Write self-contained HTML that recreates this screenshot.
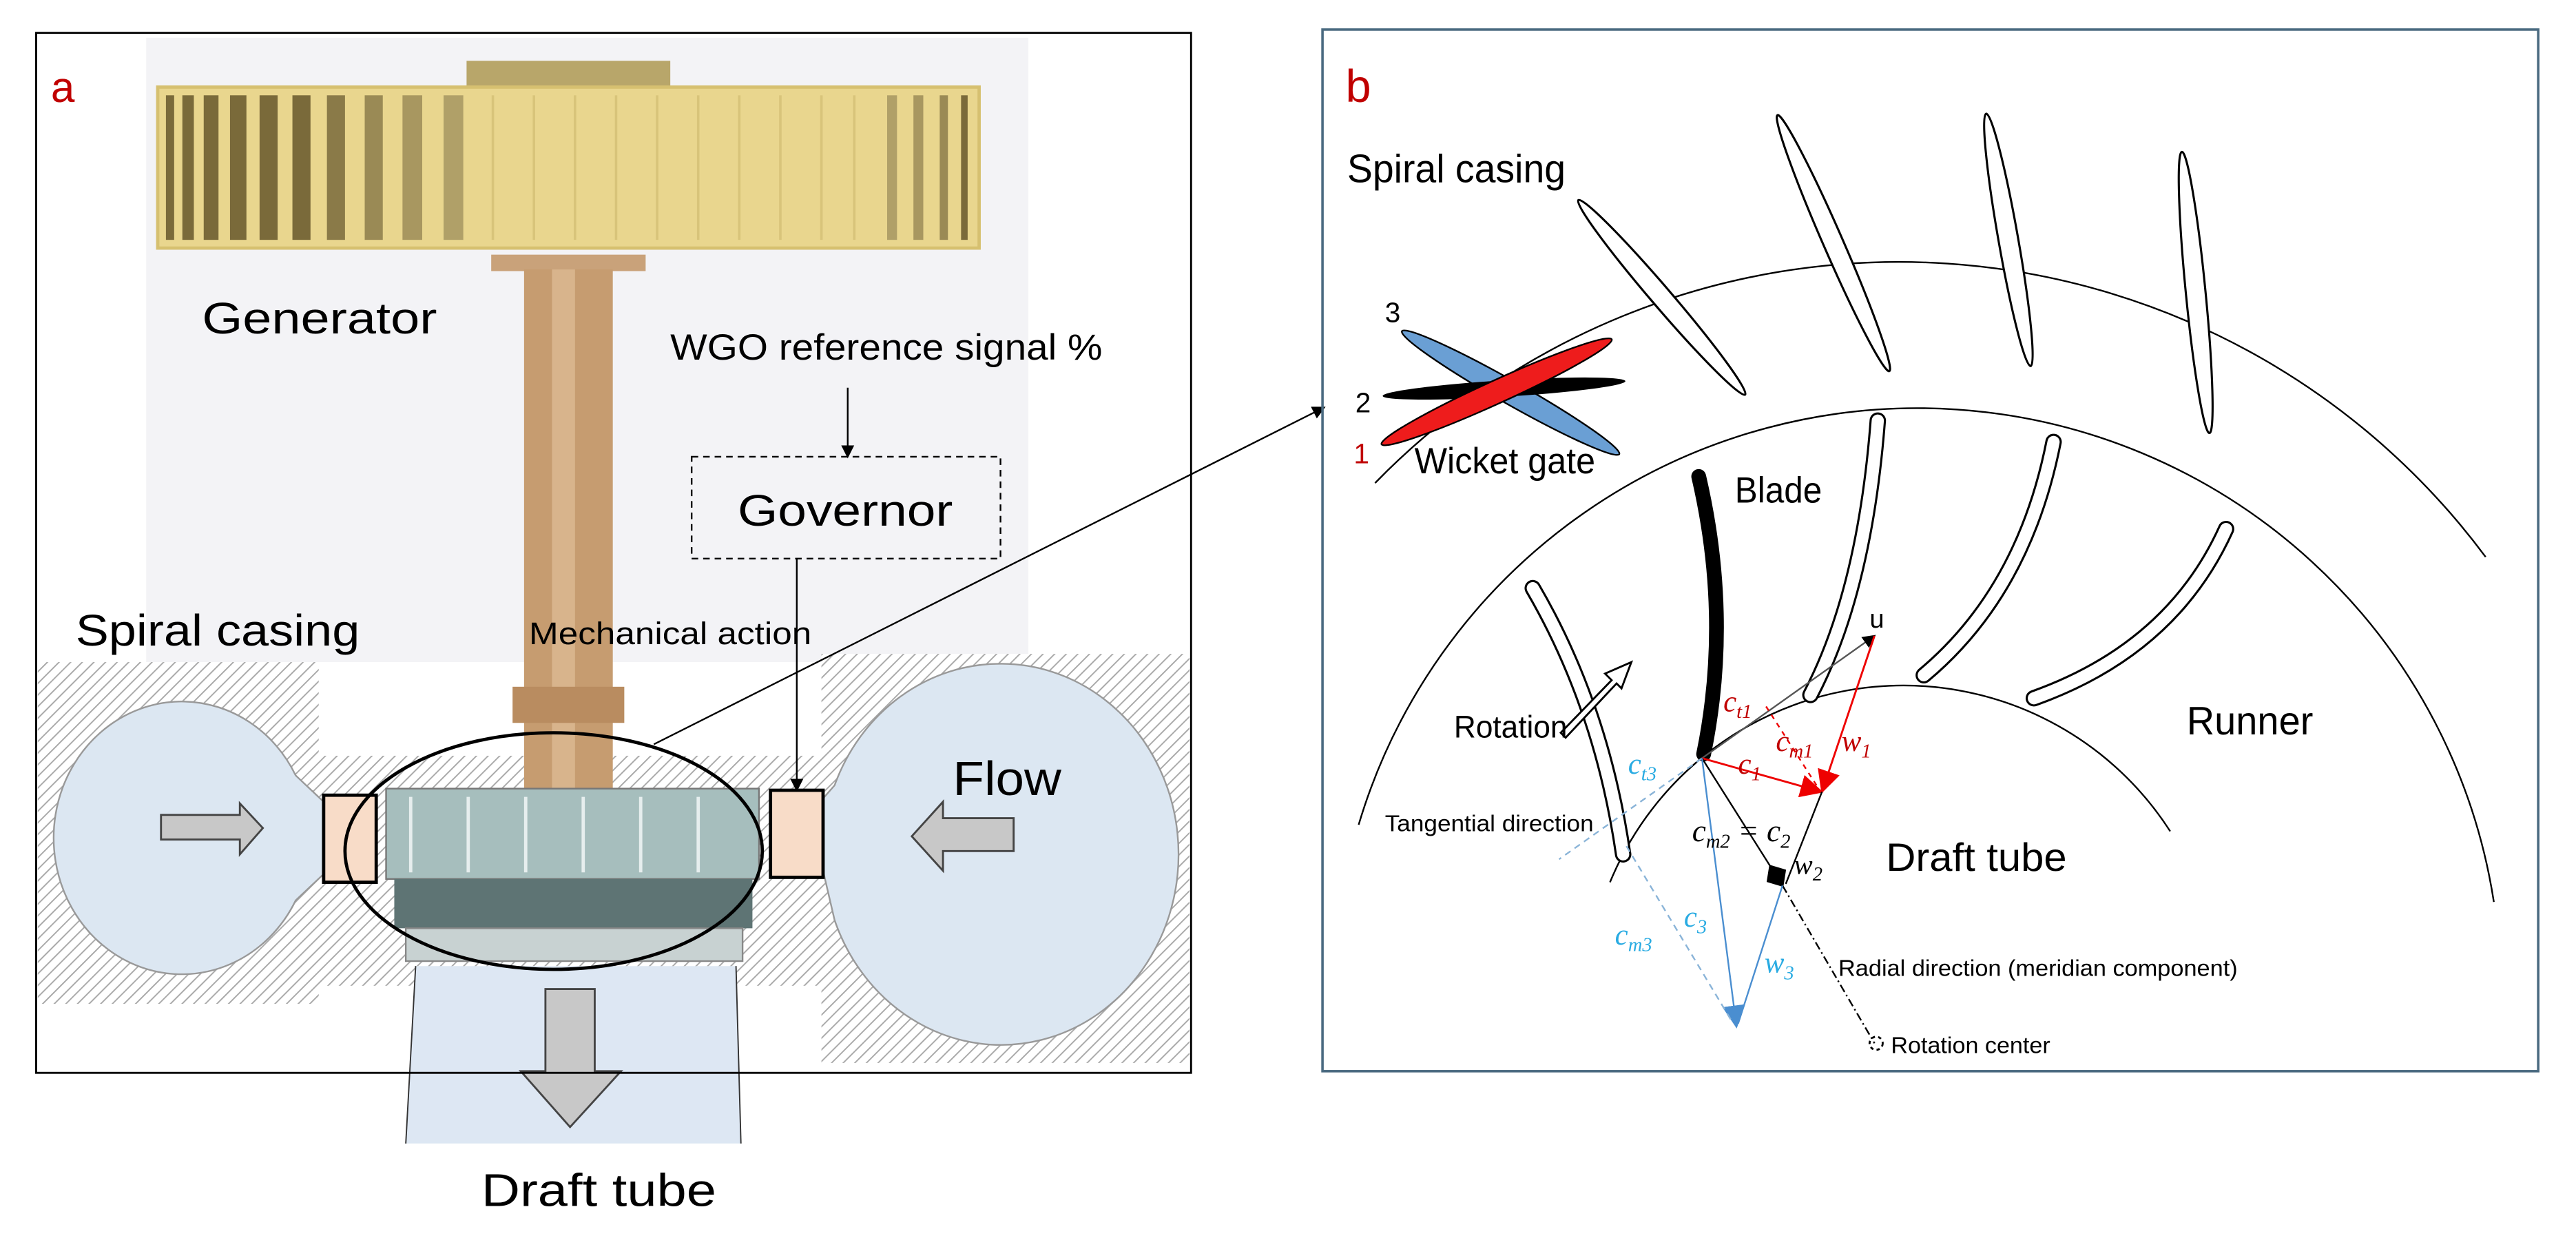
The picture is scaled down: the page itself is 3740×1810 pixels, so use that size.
<!DOCTYPE html>
<html><head><meta charset="utf-8"><style>html,body{margin:0;padding:0;background:#fff}svg{display:block}</style></head>
<body>
<svg width="3740" height="1810" viewBox="0 0 1568 759" preserveAspectRatio="none" xmlns="http://www.w3.org/2000/svg" font-family="Liberation Sans, sans-serif">
<defs>
<pattern id="h" width="5" height="5" patternUnits="userSpaceOnUse" patternTransform="rotate(45)">
<rect width="5" height="5" fill="#fff"/><line x1="0" y1="0" x2="0" y2="5" stroke="#a8a8a8" stroke-width="1.6"/></pattern>
<marker id="ak" markerWidth="8" markerHeight="8" refX="7" refY="4" orient="auto" markerUnits="userSpaceOnUse"><path d="M0,0L8,4L0,8z" fill="#000"/></marker>
<marker id="ar" markerWidth="14" markerHeight="14" refX="13" refY="7" orient="auto" markerUnits="userSpaceOnUse"><path d="M0,0L14,7L0,14z" fill="#e00"/></marker>
<marker id="ab" markerWidth="14" markerHeight="14" refX="13" refY="7" orient="auto" markerUnits="userSpaceOnUse"><path d="M0,0L14,7L0,14z" fill="#4a8ed0"/></marker>
<marker id="ad" markerWidth="18" markerHeight="16" refX="15" refY="8" orient="auto" markerUnits="userSpaceOnUse"><path d="M0,8L8,1L16,8L8,15z" fill="#000"/></marker>
</defs>
<rect width="1568" height="759" fill="#fff"/>

<!-- ===== Panel a ===== -->
<rect x="89" y="23" width="537" height="380" fill="#f3f3f6"/>
<rect x="23" y="403" width="171" height="208" fill="url(#h)"/>
<rect x="180" y="460" width="330" height="140" fill="url(#h)"/>
<rect x="500" y="398" width="224" height="249" fill="url(#h)"/>
<path d="M112,427 A78,83 0 1,0 180,548 L197,532 L197,488 L180,472 A78,83 0 0,0 112,427z" fill="#dce7f2" stroke="#999" stroke-width="1"/>
<path d="M610,404 A108,116 0 1,1 508,560 L501,530 L501,486 L508,478 A108,116 0 0,1 610,404z" fill="#dce7f2" stroke="#999" stroke-width="1"/>
<path d="M253,588 L448,588 L451,696 L247,696z" fill="#dde7f3"/>
<line x1="253" y1="588" x2="247" y2="696" stroke="#333" stroke-width="0.8"/>
<line x1="448" y1="588" x2="451" y2="696" stroke="#333" stroke-width="0.8"/>
<rect x="284" y="37" width="124" height="17" fill="#b8a66a"/>
<rect x="96" y="53" width="500" height="98" fill="#e9d68e" stroke="#d6c070" stroke-width="2"/>
<g fill="#7a6a3a">
<rect x="101" y="58" width="5" height="88"/><rect x="111" y="58" width="7" height="88"/><rect x="124" y="58" width="9" height="88"/>
<rect x="140" y="58" width="10" height="88"/><rect x="158" y="58" width="11" height="88"/><rect x="178" y="58" width="11" height="88"/>
<rect x="199" y="58" width="11" height="88" fill="#8a7a48"/><rect x="222" y="58" width="11" height="88" fill="#9a8a55"/>
<rect x="245" y="58" width="12" height="88" fill="#a89760"/><rect x="270" y="58" width="12" height="88" fill="#b0a068"/>
<rect x="540" y="58" width="6" height="88" fill="#b0a068"/><rect x="556" y="58" width="6" height="88" fill="#a89760"/><rect x="572" y="58" width="5" height="88" fill="#9a8a55"/><rect x="585" y="58" width="4" height="88"/>
</g>
<g fill="none" stroke="#d8c47a" stroke-width="1.5">
<path d="M300,58v88M325,58v88M350,58v88M375,58v88M400,58v88M425,58v88M450,58v88M475,58v88M500,58v88M520,58v88"/>
</g>
<rect x="299" y="155" width="94" height="10" fill="#c9a27a"/>
<rect x="319" y="164" width="54" height="320" fill="#c69c70"/>
<rect x="336" y="164" width="14" height="320" fill="#d8b48c"/>
<rect x="312" y="418" width="68" height="22" fill="#b98c60"/>
<rect x="235" y="480" width="227" height="55" fill="#a6bebd" stroke="#777"/>
<g stroke="#e6eeee" stroke-width="2"><path d="M250,485v46M285,485v46M320,485v46M355,485v46M390,485v46M425,485v46"/></g>
<rect x="240" y="535" width="218" height="30" fill="#5e7474"/>
<rect x="247" y="565" width="205" height="20" fill="#c8d2d2" stroke="#888"/>
<rect x="197" y="484" width="32" height="53" fill="#f8dcc8" stroke="#000" stroke-width="2"/>
<rect x="469" y="481" width="32" height="53" fill="#f8dcc8" stroke="#000" stroke-width="2"/>
<ellipse cx="337" cy="518" rx="127" ry="72" fill="none" stroke="#000" stroke-width="2"/>
<path d="M98,496H146V489L160,504L146,520V511H98z" fill="#c8c8c8" stroke="#444" stroke-width="1.2"/>
<path d="M617,498H574V488L555,509L574,530V518H617z" fill="#c8c8c8" stroke="#444" stroke-width="1.2"/>
<path d="M332,602H362V652H378L347,686L317,652H332z" fill="#c8c8c8" stroke="#444" stroke-width="1.2"/>
<line x1="516" y1="236" x2="516" y2="278" stroke="#000" stroke-width="1" marker-end="url(#ak)"/>
<rect x="421" y="278" width="188" height="62" fill="none" stroke="#000" stroke-width="1" stroke-dasharray="4,3"/>
<line x1="485" y1="340" x2="485" y2="481" stroke="#000" stroke-width="1" marker-end="url(#ak)"/>
<rect x="22" y="20" width="703" height="633" fill="none" stroke="#000" stroke-width="1.2"/>
<text x="31" y="62" font-size="26" fill="#c00000">a</text>
<text x="123" y="203" font-size="27" textLength="143" lengthAdjust="spacingAndGlyphs">Generator</text>
<text x="408" y="219" font-size="22" textLength="263" lengthAdjust="spacingAndGlyphs">WGO reference signal %</text>
<text x="449" y="320" font-size="27" textLength="131" lengthAdjust="spacingAndGlyphs">Governor</text>
<text x="46" y="393" font-size="27" textLength="173" lengthAdjust="spacingAndGlyphs">Spiral casing</text>
<text x="322" y="392" font-size="19" textLength="172" lengthAdjust="spacingAndGlyphs">Mechanical action</text>
<text x="580" y="484" font-size="29" textLength="66" lengthAdjust="spacingAndGlyphs">Flow</text>
<text x="293" y="734" font-size="28" textLength="143" lengthAdjust="spacingAndGlyphs">Draft tube</text>
<line x1="398" y1="453" x2="806" y2="248" stroke="#000" stroke-width="1" marker-end="url(#ak)"/>

<!-- ===== Panel b ===== -->
<rect x="805" y="18" width="740" height="634" fill="none" stroke="#4a6a80" stroke-width="1.5"/>
<text x="819" y="62" font-size="28" fill="#c00000">b</text>
<text x="820" y="111" font-size="24" textLength="133" lengthAdjust="spacingAndGlyphs">Spiral casing</text>
<g fill="none" stroke="#000" stroke-width="1">
<path d="M837,294 A445,445 0 0,1 1513,339"/>
<path d="M827,502 A355,355 0 0,1 1518,549"/>
<path d="M980,537 A193,193 0 0,1 1321,506"/>
</g>
<g fill="#fff" stroke="#000" stroke-width="1.3">
<ellipse cx="1011.5" cy="181" rx="78" ry="6" transform="rotate(49.4 1011.5 181)"/>
<ellipse cx="1116" cy="148" rx="85" ry="6" transform="rotate(66.4 1116 148)"/>
<ellipse cx="1222.5" cy="146" rx="78" ry="6" transform="rotate(80 1222.5 146)"/>
<ellipse cx="1336.5" cy="178" rx="86" ry="6" transform="rotate(84.4 1336.5 178)"/>
</g>
<ellipse cx="919.5" cy="239" rx="76" ry="7" transform="rotate(29.5 919.5 239)" fill="#6a9fd4" stroke="#000" stroke-width="1"/>
<ellipse cx="915.5" cy="236.5" rx="74" ry="5" transform="rotate(-3.5 915.5 236.5)" fill="#000"/>
<ellipse cx="911" cy="238.5" rx="77" ry="7" transform="rotate(-24.5 911 238.5)" fill="#ee1c1c" stroke="#000" stroke-width="1"/>
<text x="843" y="196" font-size="17">3</text>
<text x="825" y="251" font-size="17">2</text>
<text x="824" y="282" font-size="17" fill="#c00000">1</text>
<text x="861" y="288" font-size="22" textLength="110" lengthAdjust="spacingAndGlyphs">Wicket gate</text>
<g fill="none" stroke-linecap="round">
<g stroke="#000" stroke-width="10">
<path d="M1143,256 Q1135,360 1102,423"/><path d="M1250,269 Q1232,360 1171,411"/>
<path d="M1355,322 Q1322,395 1238,425"/><path d="M933,358 Q975,430 988,520"/>
</g>
<g stroke="#fff" stroke-width="7.4">
<path d="M1143,256 Q1135,360 1102,423"/><path d="M1250,269 Q1232,360 1171,411"/>
<path d="M1355,322 Q1322,395 1238,425"/><path d="M933,358 Q975,430 988,520"/>
</g>
<path d="M1034,290 Q1054,376 1037,459" stroke="#000" stroke-width="9"/>
</g>
<text x="1056" y="306" font-size="22" textLength="53" lengthAdjust="spacingAndGlyphs">Blade</text>
<path d="M950,446 L981,414 L977,410 L993,403 L987,419 L984,416 L953,449z" fill="#fff" stroke="#000" stroke-width="1.2"/>
<text x="885" y="449" font-size="19" textLength="69" lengthAdjust="spacingAndGlyphs">Rotation</text>
<text x="1331" y="447" font-size="24" textLength="77" lengthAdjust="spacingAndGlyphs">Runner</text>
<text x="1148" y="530" font-size="24" textLength="110" lengthAdjust="spacingAndGlyphs">Draft tube</text>
<text x="843" y="506" font-size="14" textLength="127" lengthAdjust="spacingAndGlyphs">Tangential direction</text>
<text x="1119" y="594" font-size="14" textLength="243" lengthAdjust="spacingAndGlyphs">Radial direction (meridian component)</text>
<text x="1151" y="641" font-size="14" textLength="97" lengthAdjust="spacingAndGlyphs">Rotation center</text>
<line x1="1036" y1="461.5" x2="949" y2="523" stroke="#8ab4d8" stroke-width="1" stroke-dasharray="4,3"/>
<line x1="1036" y1="461.5" x2="1141" y2="387" stroke="#555" stroke-width="1" marker-end="url(#ak)"/>
<line x1="1141" y1="387" x2="1109" y2="482" stroke="#e00" stroke-width="1.2" marker-end="url(#ar)"/>
<line x1="1036" y1="461.5" x2="1109" y2="482" stroke="#e00" stroke-width="1.2" marker-end="url(#ar)"/>
<line x1="1075" y1="430" x2="1107" y2="480" stroke="#e00" stroke-width="1" stroke-dasharray="3,3"/>
<line x1="1036" y1="461.5" x2="1085" y2="539" stroke="#000" stroke-width="1" marker-end="url(#ad)"/>
<line x1="1109" y1="482" x2="1087" y2="538" stroke="#000" stroke-width="1"/>
<line x1="1085" y1="539" x2="1141" y2="635" stroke="#000" stroke-width="1" stroke-dasharray="5,2,1,2"/>
<circle cx="1142" cy="635" r="4" fill="none" stroke="#000" stroke-width="1.2" stroke-dasharray="2,2"/>
<line x1="1036" y1="461.5" x2="1057" y2="625" stroke="#4a8ed0" stroke-width="1" marker-end="url(#ab)"/>
<line x1="1085" y1="539" x2="1058" y2="623" stroke="#4a8ed0" stroke-width="1"/>
<line x1="990" y1="515" x2="1055" y2="623" stroke="#8ab4d8" stroke-width="1" stroke-dasharray="4,3"/>
<g font-family="Liberation Serif, serif" font-style="italic">
<text x="1138" y="382" font-size="16" font-style="normal" font-family="Liberation Sans, sans-serif">u</text>
<text x="1121" y="457" font-size="18" fill="#c00000">w<tspan font-size="12" dy="4">1</tspan></text>
<text x="1058" y="471" font-size="18" fill="#c00000">c<tspan font-size="12" dy="4">1</tspan></text>
<text x="1081" y="457" font-size="18" fill="#c00000">c<tspan font-size="12" dy="4">m1</tspan></text>
<text x="1049" y="433" font-size="18" fill="#c00000">c<tspan font-size="12" dy="4">t1</tspan></text>
<text x="991" y="471" font-size="18" fill="#29abe2">c<tspan font-size="12" dy="4">t3</tspan></text>
<text x="1030" y="512" font-size="19">c<tspan font-size="12" dy="4">m2</tspan><tspan dy="-4"> = c</tspan><tspan font-size="12" dy="4">2</tspan></text>
<text x="1092" y="532" font-size="17">w<tspan font-size="12" dy="4">2</tspan></text>
<text x="1025" y="564" font-size="18" fill="#29abe2">c<tspan font-size="12" dy="4">3</tspan></text>
<text x="1074" y="592" font-size="18" fill="#29abe2">w<tspan font-size="12" dy="4">3</tspan></text>
<text x="983" y="575" font-size="18" fill="#29abe2">c<tspan font-size="12" dy="4">m3</tspan></text>
</g>
</svg>
</body></html>
